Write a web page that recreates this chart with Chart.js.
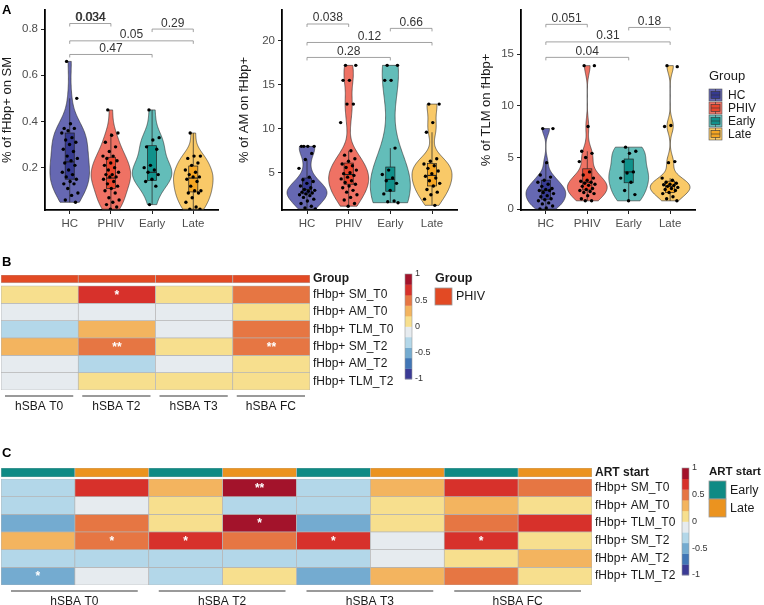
<!DOCTYPE html>
<html>
<head>
<meta charset="utf-8">
<script src="https://cdn.jsdelivr.net/npm/chart.js@4.4.1/dist/chart.umd.min.js"></script>
<style>
  body { margin: 0; background: #fff; }
  #wrap { position: relative; width: 764px; height: 605px; overflow: hidden; background: #fff; }
  canvas { position: absolute; }
</style>
</head>
<body>
<div id="wrap">
  <canvas id="sm" style="left:0;top:0" width="230" height="240"></canvas>
  <canvas id="am" style="left:235px;top:0" width="235" height="240"></canvas>
  <canvas id="tlm" style="left:475px;top:0" width="289" height="240"></canvas>
  <canvas id="heatB" style="left:0;top:250px" width="764" height="175"></canvas>
  <canvas id="heatC" style="left:0;top:440px" width="764" height="165"></canvas>
</div>
<script>
const FONT = "'Liberation Sans', Arial, Helvetica, sans-serif";

// ---- panel A data ----
const groups = ['HC', 'PHIV', 'Early', 'Late'];
const violinFill = ['#6668b2', '#ef7264', '#63bdb9', '#f9c968'];
const boxFill = ['#363a91', '#e9472e', '#10918b', '#f5a623'];

const smHC = [0.66, 0.50, 0.39, 0.37, 0.37, 0.36, 0.35, 0.33, 0.32, 0.31, 0.30, 0.28, 0.27, 0.25, 0.24, 0.23, 0.22, 0.21, 0.19, 0.18, 0.17, 0.16, 0.15, 0.14, 0.13, 0.13, 0.11, 0.09, 0.08, 0.06, 0.05];
const smPHIV = [0.45, 0.35, 0.34, 0.31, 0.29, 0.27, 0.25, 0.25, 0.24, 0.23, 0.22, 0.21, 0.20, 0.19, 0.18, 0.17, 0.17, 0.16, 0.16, 0.15, 0.14, 0.13, 0.12, 0.11, 0.10, 0.09, 0.07, 0.06, 0.05, 0.04, 0.03, 0.02];
const smEarly = [0.45, 0.33, 0.32, 0.29, 0.28, 0.21, 0.20, 0.19, 0.18, 0.17, 0.15, 0.14, 0.12, 0.04];
const smLate = [0.35, 0.25, 0.25, 0.24, 0.22, 0.21, 0.19, 0.18, 0.17, 0.16, 0.16, 0.15, 0.14, 0.12, 0.10, 0.10, 0.09, 0.09, 0.07, 0.05, 0.03, 0.02, 0.02];
const smQ1 = [0.15, 0.11, 0.145, 0.095];
const smMed = [0.225, 0.155, 0.18, 0.155];
const smQ3 = [0.35, 0.245, 0.295, 0.207];
const smTicks = [0.2, 0.4, 0.6, 0.8];
const smFrom = [1, 3, 1, 1];
const smTo = [2, 4, 4, 3];
const smBracketY = [0.824, 0.80, 0.749, 0.69];
const smLabels = ['0.034', '0.29', '0.05', '0.47'];

const amHC = [8.0, 8.0, 8.0, 8.0, 7.2, 6.5, 5.5, 4.5, 4.2, 4.0, 3.8, 3.5, 3.3, 3.1, 3.0, 2.9, 2.8, 2.7, 2.6, 2.5, 2.4, 2.2, 2.0, 1.8, 1.5, 1.2, 1.0, 0.9];
const amPHIV = [17.2, 17.2, 15.5, 15.5, 12.8, 12.8, 10.7, 7.5, 7.0, 6.6, 6.3, 6.0, 5.8, 5.6, 5.3, 5.0, 4.9, 4.7, 4.5, 4.3, 4.1, 3.9, 3.7, 3.5, 3.3, 3.0, 2.8, 2.5, 2.2, 1.9, 1.5, 1.2];
const amEarly = [17.2, 17.2, 15.5, 15.5, 7.8, 5.3, 4.8, 4.4, 4.1, 3.8, 3.0, 2.6, 1.8, 1.7, 1.6];
const amLate = [12.8, 12.8, 10.7, 9.6, 6.6, 6.3, 6.0, 5.8, 5.5, 5.2, 4.9, 4.6, 4.4, 4.1, 3.8, 3.5, 3.1, 2.8, 2.5, 2.0, 1.3];
const amQ1 = [2.6, 3.7, 2.9, 3.5];
const amMed = [3.1, 4.8, 4.25, 4.7];
const amQ3 = [4.4, 6.1, 5.65, 6.05];
const amTicks = [5, 10, 15, 20];
const amBracketY = [21.9, 21.4, 19.8, 18.1];
const amLabels = ['0.038', '0.66', '0.12', '0.28'];

const tlmHC = [7.8, 7.8, 4.5, 3.3, 3.1, 2.8, 2.6, 2.4, 2.2, 2.0, 1.9, 1.8, 1.8, 1.6, 1.5, 1.3, 1.2, 1.0, 0.9, 0.8, 0.6, 0.5, 0.3, 0.1, 0.0];
const tlmPHIV = [13.9, 13.9, 8.0, 5.6, 5.4, 5.0, 4.6, 3.6, 3.3, 3.0, 2.8, 2.7, 2.6, 2.5, 2.4, 2.3, 2.2, 2.0, 1.9, 1.8, 1.7, 1.6, 1.5, 1.3, 1.0, 0.8, 0.8];
const tlmEarly = [6.0, 5.6, 5.4, 4.6, 3.6, 3.5, 3.0, 2.6, 1.8, 1.4, 0.8];
const tlmLate = [13.9, 13.8, 8.1, 8.0, 4.6, 4.5, 3.0, 2.8, 2.6, 2.5, 2.4, 2.35, 2.3, 2.2, 2.1, 2.0, 1.9, 1.8, 1.6, 1.5, 1.2, 1.0, 0.8];
const tlmQ1 = [0.95, 1.85, 2.55, 1.6];
const tlmMed = [1.8, 2.6, 3.6, 2.2];
const tlmQ3 = [2.8, 3.9, 4.85, 2.7];
const tlmTicks = [0, 5, 10, 15];
const tlmBracketY = [17.9, 17.6, 16.2, 14.7];
const tlmLabels = ['0.051', '0.18', '0.31', '0.04'];

// ---- panel B / C data ----
const heatRows = ['fHbp+ SM_T0', 'fHbp+ AM_T0', 'fHbp+ TLM_T0', 'fHbp+ SM_T2', 'fHbp+ AM_T2', 'fHbp+ TLM_T2'];
const hsbaLabels = ['hSBA T0', 'hSBA T2', 'hSBA T3', 'hSBA FC'];
const heatPalette = ['#3b3b96', '#4176b6', '#74abd0', '#b3d7e9', '#e6ebef', '#f7df8e', '#f3b45f', '#e67643', '#d7312b', '#a3132b'];

const bCols = ['hSBA T0', 'hSBA T2', 'hSBA T3', 'hSBA FC'];
const bGroup = ['PHIV', 'PHIV', 'PHIV', 'PHIV'];
const bValues = [
  [0.1, 0.7, 0.1, 0.5],
  [-0.1, -0.1, -0.1, 0.1],
  [-0.3, 0.3, -0.1, 0.5],
  [0.3, 0.5, 0.1, 0.5],
  [-0.1, -0.3, -0.1, 0.1],
  [-0.1, 0.1, 0.1, 0.1]
];
const bStars = [
  ['', '*', '', ''],
  ['', '', '', ''],
  ['', '', '', ''],
  ['', '**', '', '**'],
  ['', '', '', ''],
  ['', '', '', '']
];

const cCols = ['T0 Early', 'T0 Late', 'T2 Early', 'T2 Late', 'T3 Early', 'T3 Late', 'FC Early', 'FC Late'];
const cArt = ['Early', 'Late', 'Early', 'Late', 'Early', 'Late', 'Early', 'Late'];
const cValues = [
  [-0.3, 0.7, 0.3, 0.9, -0.3, 0.3, 0.7, 0.5],
  [-0.3, -0.1, 0.1, -0.3, -0.3, 0.1, 0.3, 0.1],
  [-0.5, 0.5, 0.1, 0.9, -0.5, 0.1, 0.5, 0.7],
  [0.3, 0.5, 0.7, 0.5, 0.7, -0.1, 0.7, 0.1],
  [-0.3, -0.3, -0.3, -0.3, -0.3, -0.1, 0.1, 0.3],
  [-0.5, -0.1, -0.3, 0.1, -0.5, 0.3, 0.5, 0.1]
];
const cStars = [
  ['', '', '', '**', '', '', '', ''],
  ['', '', '', '', '', '', '', ''],
  ['', '', '', '*', '', '', '', ''],
  ['', '*', '*', '', '*', '', '*', ''],
  ['', '', '', '', '', '', '', ''],
  ['*', '', '', '', '', '', '', '']
];
const annotColors = { PHIV: '#e24a24', Early: '#0f8a84', Late: '#eb931f' };

// ---- helpers ----
function quantile(sorted, p) {
  const h = (sorted.length - 1) * p;
  const lo = Math.floor(h);
  return sorted[lo] + (h - lo) * ((sorted[Math.min(lo + 1, sorted.length - 1)]) - sorted[lo]);
}

// gaussian kde, bw.nrd0 like R, trimmed to data range
function density(vals) {
  const s = vals.slice().sort((a, b) => a - b);
  const n = s.length;
  const mean = s.reduce((a, b) => a + b, 0) / n;
  const sd = Math.sqrt(s.reduce((a, b) => a + (b - mean) * (b - mean), 0) / (n - 1));
  const iqr = quantile(s, 0.75) - quantile(s, 0.25);
  let lo = Math.min(sd, iqr / 1.34);
  if (!lo) lo = sd || 1;
  const bw = 0.9 * lo * Math.pow(n, -0.2);
  const out = [];
  const steps = 120;
  for (let k = 0; k <= steps; k++) {
    const y = s[0] + (s[n - 1] - s[0]) * k / steps;
    let d = 0;
    s.forEach(v => { const z = (y - v) / bw; d += Math.exp(-0.5 * z * z); });
    out.push([y, d]);
  }
  const mx = Math.max(...out.map(p => p[1]));
  return out.map(p => [p[0], p[1] / mx]);
}

function jitter(k) {
  return (((k * 0.618034 + 0.31) % 1) - 0.5) * 0.4;
}

function violinPlugin(sets, q1, med, q3, from, to, bracketY, labels, extra) {
  return {
    id: 'violins',
    beforeDatasetsDraw(chart) {
      const { ctx, scales: { x, y } } = chart;
      ctx.save();
      sets.forEach((vals, i) => {
        const cx = i + 1;
        const prof = density(vals);
        const half = 0.48;
        ctx.beginPath();
        prof.forEach((p, k) => {
          const px = x.getPixelForValue(cx - p[1] * half), py = y.getPixelForValue(p[0]);
          if (k) ctx.lineTo(px, py); else ctx.moveTo(px, py);
        });
        for (let k = prof.length - 1; k >= 0; k--) {
          ctx.lineTo(x.getPixelForValue(cx + prof[k][1] * half), y.getPixelForValue(prof[k][0]));
        }
        ctx.closePath();
        ctx.fillStyle = violinFill[i];
        ctx.fill();
        ctx.strokeStyle = '#2b2b2b';
        ctx.lineWidth = 0.6;
        ctx.stroke();

        // box + whiskers
        const iqr = q3[i] - q1[i];
        const hi = Math.max(...vals.filter(v => v <= q3[i] + 1.5 * iqr));
        const lo = Math.min(...vals.filter(v => v >= q1[i] - 1.5 * iqr));
        const xc = x.getPixelForValue(cx);
        const bl = x.getPixelForValue(cx - 0.11), br = x.getPixelForValue(cx + 0.11);
        ctx.strokeStyle = '#222';
        ctx.lineWidth = 0.7;
        ctx.beginPath();
        ctx.moveTo(xc, y.getPixelForValue(q3[i]));
        ctx.lineTo(xc, y.getPixelForValue(hi));
        ctx.moveTo(xc, y.getPixelForValue(q1[i]));
        ctx.lineTo(xc, y.getPixelForValue(lo));
        ctx.stroke();
        const top = y.getPixelForValue(q3[i]), bot = y.getPixelForValue(q1[i]);
        ctx.fillStyle = boxFill[i];
        ctx.fillRect(bl, top, br - bl, bot - top);
        ctx.strokeRect(bl, top, br - bl, bot - top);
        ctx.lineWidth = 1.1;
        ctx.beginPath();
        ctx.moveTo(bl, y.getPixelForValue(med[i]));
        ctx.lineTo(br, y.getPixelForValue(med[i]));
        ctx.stroke();
      });
      ctx.restore();
    },
    afterDatasetsDraw(chart) {
      const { ctx, scales: { x, y } } = chart;
      ctx.save();
      ctx.strokeStyle = '#8a8a8a';
      ctx.lineWidth = 0.8;
      ctx.font = '12px ' + FONT;
      ctx.fillStyle = '#333';
      ctx.textAlign = 'center';
      ctx.textBaseline = 'alphabetic';
      from.forEach((f, k) => {
        const x0 = x.getPixelForValue(f), x1 = x.getPixelForValue(to[k]);
        const yy = y.getPixelForValue(bracketY[k]);
        ctx.beginPath();
        ctx.moveTo(x0, yy + 3);
        ctx.lineTo(x0, yy);
        ctx.lineTo(x1, yy);
        ctx.lineTo(x1, yy + 3);
        ctx.stroke();
        ctx.fillText(labels[k], (x0 + x1) / 2, yy - 2.5);
        if (k === 0 && labels[k] === '0.034') ctx.fillText(labels[k], (x0 + x1) / 2 + 0.6, yy - 2.5);
      });
      ctx.restore();
    },
    afterDraw(chart) {
      if (extra) extra(chart.ctx);
    }
  };
}

function makeViolinChart(id, sets, q1, med, q3, ticks, yMin, yMax, fmt, title, yWidth, padRight, titlePad, bracketY, labels, extra) {
  const datasets = [{
    type: 'scatter',
    data: sets.flatMap((vals, i) => vals.map((v, k) => ({ x: i + 1 + jitter(k), y: v }))),
    pointRadius: 1.7,
    pointBackgroundColor: '#000',
    pointBorderWidth: 0
  }];
  return new Chart(document.getElementById(id), {
    type: 'scatter',
    data: { datasets },
    options: {
      responsive: false,
      animation: false,
      layout: { padding: { top: 2, right: padRight, left: 0, bottom: 0 } },
      plugins: { legend: { display: false }, tooltip: { enabled: false } },
      scales: {
        x: {
          type: 'linear', min: 0.4, max: 4.6,
          afterBuildTicks: s => { s.ticks = [1, 2, 3, 4].map(v => ({ value: v })); },
          afterFit: s => { s.height = 30; },
          ticks: { callback: v => groups[v - 1], color: '#4d4d4d', font: { family: FONT, size: 11.5 }, padding: 3, maxRotation: 0 },
          grid: { drawOnChartArea: false, drawTicks: true, tickLength: 4, color: '#222' },
          border: { display: true, color: '#000', width: 1.8 }
        },
        y: {
          type: 'linear', min: yMin, max: yMax,
          afterBuildTicks: s => { s.ticks = ticks.map(v => ({ value: v })); },
          afterFit: s => { s.width = yWidth; },
          ticks: { callback: fmt, color: '#4d4d4d', font: { family: FONT, size: 11.5 }, padding: 3 },
          grid: { drawOnChartArea: false, drawTicks: true, tickLength: 4, color: '#222' },
          border: { display: true, color: '#000', width: 1.8 },
          title: { display: true, text: title, color: '#1a1a1a', font: { family: FONT, size: 13 }, padding: { top: titlePad, bottom: 0 } }
        }
      }
    },
    plugins: [violinPlugin(sets, q1, med, q3, smFrom, smTo, bracketY, labels, extra)]
  });
}

makeViolinChart('sm', [smHC, smPHIV, smEarly, smLate], smQ1, smMed, smQ3, smTicks, 0.0167, 0.883,
  v => v.toFixed(1), '% of fHbp+ on SM', 45, 12, 0, smBracketY, smLabels,
  ctx => {
    ctx.save();
    ctx.font = 'bold 13px ' + FONT;
    ctx.fillStyle = '#000';
    ctx.textBaseline = 'middle';
    ctx.fillText('A', 2, 10);
    ctx.restore();
  });

makeViolinChart('am', [amHC, amPHIV, amEarly, amLate], amQ1, amMed, amQ3, amTicks, 0.77, 23.5,
  v => String(v), '% of AM on fHbp+', 47, 13, 2, amBracketY, amLabels, null);

makeViolinChart('tlm', [tlmHC, tlmPHIV, tlmEarly, tlmLate], tlmQ1, tlmMed, tlmQ3, tlmTicks, -0.09, 19.3,
  v => String(v), '% of TLM on fHbp+', 46, 69, 4, tlmBracketY, tlmLabels,
  ctx => {
    // Group legend
    const lx = 234;
    ctx.save();
    ctx.font = '13px ' + FONT;
    ctx.fillStyle = '#1a1a1a';
    ctx.textBaseline = 'middle';
    ctx.fillText('Group', lx, 76);
    groups.forEach((g, i) => {
      const ty = 89 + i * 13;
      ctx.fillStyle = violinFill[i];
      ctx.fillRect(lx, ty, 13, 12);
      ctx.strokeStyle = '#555';
      ctx.lineWidth = 0.6;
      ctx.strokeRect(lx, ty, 13, 12);
      ctx.fillStyle = boxFill[i];
      ctx.fillRect(lx + 2, ty + 2.5, 9, 7);
      ctx.strokeStyle = '#333';
      ctx.strokeRect(lx + 2, ty + 2.5, 9, 7);
      ctx.beginPath();
      ctx.moveTo(lx + 2, ty + 6); ctx.lineTo(lx + 11, ty + 6);
      ctx.moveTo(lx + 6.5, ty); ctx.lineTo(lx + 6.5, ty + 2.5);
      ctx.moveTo(lx + 6.5, ty + 9.5); ctx.lineTo(lx + 6.5, ty + 12);
      ctx.stroke();
      ctx.fillStyle = '#1a1a1a';
      ctx.font = '12px ' + FONT;
      ctx.fillText(g, lx + 19, ty + 6.5);
    });
    ctx.restore();
  });

// ---- heatmaps ----
function binColor(v) {
  const k = Math.min(9, Math.max(0, Math.floor((v + 1) / 0.2 + 1e-9)));
  return heatPalette[k];
}

function makeHeat(id, cols, annot, values, stars, cfg) {
  const datasets = [{
    data: cols.map(() => [cfg.annTop, cfg.annBot]),
    backgroundColor: annot.map(a => annotColors[a])
  }];
  values.forEach((row, r) => datasets.push({
    data: row.map(() => [r, r + 1]),
    backgroundColor: row.map(binColor)
  }));
  datasets.forEach(d => Object.assign(d, {
    grouped: false, barPercentage: 1, categoryPercentage: 1,
    borderColor: '#b4b4b4', borderWidth: 0.7, borderSkipped: false
  }));
  const rowTicks = [(cfg.annTop + cfg.annBot) / 2].concat(heatRows.map((r, i) => i + 0.5));
  const rowNames = [cfg.annName].concat(heatRows);

  return new Chart(document.getElementById(id), {
    type: 'bar',
    data: { labels: cols, datasets },
    options: {
      responsive: false,
      animation: false,
      layout: { padding: { top: cfg.padTop, bottom: cfg.padBottom, left: 1, right: 0 } },
      plugins: { legend: { display: false }, tooltip: { enabled: false } },
      scales: {
        x: { display: false },
        y: {
          type: 'linear', position: 'right', reverse: true, min: cfg.annTop, max: 6,
          afterBuildTicks: s => { s.ticks = rowTicks.map(v => ({ value: v })); },
          afterFit: s => { s.width = cfg.axisWidth; },
          ticks: {
            callback: (v, i) => rowNames[i],
            color: '#1a1a1a', padding: 3,
            font: c => ({ family: FONT, size: 12, weight: (c.tick && c.tick.value < 0) ? 'bold' : 'normal' })
          },
          grid: { display: false, drawTicks: false },
          border: { display: false }
        }
      }
    },
    plugins: [{
      id: 'heatExtras',
      afterDatasetsDraw(chart) {
        const { ctx, scales: { x, y } } = chart;
        ctx.save();
        ctx.fillStyle = '#fff';
        ctx.font = 'bold 12px ' + FONT;
        ctx.textAlign = 'center';
        ctx.textBaseline = 'middle';
        stars.forEach((row, r) => row.forEach((s, c) => {
          if (s) ctx.fillText(s, x.getPixelForValue(c), y.getPixelForValue(r + 0.5) + 1);
        }));
        ctx.restore();
      },
      afterDraw(chart) {
        const { ctx, scales: { x }, chartArea } = chart;
        const halfW = (chartArea.right - chartArea.left) / cols.length / 2;
        ctx.save();
        // panel letter
        ctx.font = 'bold 13px ' + FONT;
        ctx.fillStyle = '#000';
        ctx.textBaseline = 'middle';
        ctx.fillText(cfg.letter, 2, cfg.letterY);
        // column group lines and labels
        const span = cols.length / hsbaLabels.length;
        hsbaLabels.forEach((lab, g) => {
          const l = x.getPixelForValue(g * span) - halfW + cfg.inset;
          const r = x.getPixelForValue(g * span + span - 1) + halfW - cfg.inset - 1;
          ctx.strokeStyle = '#9a9a9a';
          ctx.lineWidth = 2;
          ctx.beginPath();
          ctx.moveTo(l, chartArea.bottom + 6);
          ctx.lineTo(r, chartArea.bottom + 6);
          ctx.stroke();
          ctx.fillStyle = '#1a1a1a';
          ctx.font = '12px ' + FONT;
          ctx.textAlign = 'center';
          ctx.fillText(lab, (l + r) / 2, chartArea.bottom + 16.5);
        });
        // colour bar
        const cb = cfg.colorbar;
        const binH = (cb.bottom - cb.top) / heatPalette.length;
        heatPalette.forEach((col, k) => {
          ctx.fillStyle = col;
          ctx.fillRect(cb.x, cb.bottom - (k + 1) * binH, 7, binH + 0.3);
        });
        ctx.strokeStyle = '#999';
        ctx.lineWidth = 0.6;
        ctx.strokeRect(cb.x, cb.top, 7, cb.bottom - cb.top);
        ctx.fillStyle = '#333';
        ctx.font = '9px ' + FONT;
        ctx.textAlign = 'left';
        [1, 0.5, 0, -0.5, -1].forEach(t => {
          const ty = cb.bottom - (t + 1) / 2 * (cb.bottom - cb.top);
          ctx.fillText(String(t), cb.x + 10, ty);
        });
        // annotation legend
        const lg = cfg.legend;
        ctx.fillStyle = '#1a1a1a';
        ctx.font = 'bold ' + lg.titleSize + 'px ' + FONT;
        ctx.fillText(cfg.annName, lg.x, lg.y);
        lg.items.forEach((it, k) => {
          const by = lg.y + 9 + k * lg.h;
          ctx.fillStyle = annotColors[it];
          ctx.fillRect(lg.x, by, 17, lg.h);
          ctx.strokeStyle = '#999';
          ctx.lineWidth = 0.8;
          ctx.strokeRect(lg.x, by, 17, lg.h);
          ctx.fillStyle = '#1a1a1a';
          ctx.font = '12.5px ' + FONT;
          ctx.fillText(it, lg.x + 21, by + lg.h / 2 + 0.5);
        });
        ctx.restore();
      }
    }]
  });
}

makeHeat('heatB', bCols, bGroup, bValues, bStars, {
  annTop: -0.63, annBot: -0.17, annName: 'Group',
  padTop: 25, padBottom: 35, axisWidth: 454, inset: 4,
  letter: 'B', letterY: 12,
  colorbar: { x: 405, top: 24, bottom: 129 },
  legend: { x: 435, y: 29, h: 17, titleSize: 12.5, items: ['PHIV'] }
});

makeHeat('heatC', cCols, cArt, cValues, cStars, {
  annTop: -0.62, annBot: -0.11, annName: 'ART start',
  padTop: 28, padBottom: 20, axisWidth: 172, inset: 10,
  letter: 'C', letterY: 13,
  colorbar: { x: 682, top: 28, bottom: 135 },
  legend: { x: 709, y: 32, h: 18, titleSize: 11.5, items: ['Early', 'Late'] }
});
</script>
</body>
</html>
